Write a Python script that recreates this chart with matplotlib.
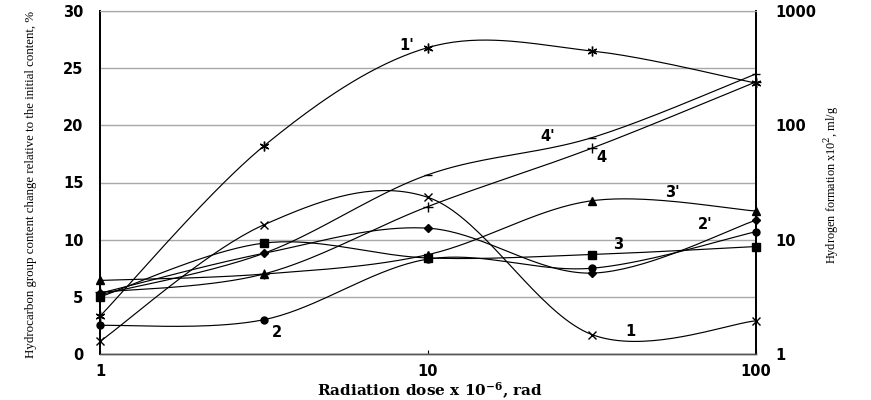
import matplotlib.pyplot as plt
import numpy as np
from matplotlib.ticker import FixedLocator, FixedFormatter, NullLocator

plt.rcParams["mathtext.fontset"] = "dejavuserif"

# radiation dose x 10^-6, rad
dose = [1, 3.16, 10, 31.6, 100]

# hydrocarbon group content change, % (left axis)
curve_1 = [1.1, 11.3, 13.7, 1.7, 2.9]
curve_2 = [2.5, 3.0, 8.3, 7.5, 10.7]
curve_3 = [5.0, 9.7, 8.4, 8.7, 9.4]
curve_4 = [5.4, 7.0, 12.9, 18.0, 23.8]

# hydrogen formation x10^2, ml/g (right axis, log)
curve_1p = [2.14, 66.0, 479.0, 447.0, 234.0]
curve_2p = [3.4, 7.6, 12.6, 5.1, 14.8]
curve_3p = [4.4, 5.0, 7.4, 21.9, 17.8]
curve_4p = [3.3, 7.6, 37.0, 78.0, 282.0]

labels = ["1", "2", "3", "4", "1'", "2'", "3'", "4'"]
label_x = [41.3, 3.46, 37.9, 33.9, 8.63, 69.9, 55.5, 23.1]
label_y = [2.0, 1.9, 9.6, 17.2, 27.0, 11.3, 14.1, 19.0]


def hermite_smooth(p, n=40):
    # Excel-style smoothing: Catmull-Rom tangents, endpoints duplicated
    p = np.asarray(p, dtype=float)
    ext = np.concatenate([[p[0]], p, [p[-1]]])
    m = (ext[2:] - ext[:-2]) / 2.0
    t = np.linspace(0, 1, n)
    h00 = 2 * t**3 - 3 * t**2 + 1
    h10 = t**3 - 2 * t**2 + t
    h01 = -2 * t**3 + 3 * t**2
    h11 = t**3 - t**2
    out = []
    for i in range(len(p) - 1):
        seg = h00 * p[i] + h10 * m[i] + h01 * p[i + 1] + h11 * m[i + 1]
        out.append(seg if i == 0 else seg[1:])
    return np.concatenate(out)


def draw_curve(ax, xs, ys, marker, ms, log_y=False):
    lx = hermite_smooth(np.log10(xs))
    if log_y:
        sy = 10 ** hermite_smooth(np.log10(ys))
    else:
        sy = hermite_smooth(ys)
    ax.plot(10**lx, sy, color="black", lw=0.85, clip_on=False, zorder=3)
    ax.plot(xs, ys, linestyle="none", marker=marker, ms=ms, color="black",
            mew=1.0, clip_on=False, zorder=4)


fig = plt.figure(figsize=(8.71, 4.0), dpi=100)
fig.patch.set_facecolor("white")
ax = fig.add_axes([100 / 871, 46 / 400, 656 / 871, 343 / 400])
ax2 = ax.twinx()

ax.set_xscale("log")
ax.set_xlim(1, 100)
ax.set_ylim(0, 30)
ax2.set_yscale("log")
ax2.set_ylim(1, 1000)

ax.xaxis.set_major_locator(FixedLocator([1, 10, 100]))
ax.xaxis.set_major_formatter(FixedFormatter(["1", "10", "100"]))
ax.xaxis.set_minor_locator(NullLocator())
ax.set_yticks([0, 5, 10, 15, 20, 25, 30])
ax2.yaxis.set_major_locator(FixedLocator([1, 10, 100, 1000]))
ax2.yaxis.set_major_formatter(FixedFormatter(["1", "10", "100", "1000"]))
ax2.yaxis.set_minor_locator(NullLocator())

ax.yaxis.grid(True, color="#a8a8a8", lw=1.0)
ax.set_axisbelow(True)

ax.tick_params(axis="x", direction="in", length=3, pad=7, width=0.8)
ax.tick_params(axis="y", length=0, pad=12)
ax2.tick_params(axis="y", length=0, pad=14)
for lab in ax.get_xticklabels() + ax.get_yticklabels() + ax2.get_yticklabels():
    lab.set_fontsize(10.5)
    lab.set_fontweight("bold")

for a in (ax, ax2):
    a.spines["top"].set_color("#a8a8a8")
    a.spines["left"].set_linewidth(1.3)
    a.spines["right"].set_linewidth(1.3)
    a.spines["bottom"].set_linewidth(1.0)
    a.spines["bottom"].set_color("#555555")

draw_curve(ax, dose, curve_1, "x", 6)
draw_curve(ax, dose, curve_2, "o", 5)
draw_curve(ax, dose, curve_3, "s", 5.5)
draw_curve(ax, dose, curve_4, "+", 7)
draw_curve(ax2, dose, curve_1p, (6, 2, 0), 7, log_y=True)
draw_curve(ax2, dose, curve_2p, "D", 4.5, log_y=True)
draw_curve(ax2, dose, curve_3p, "^", 6, log_y=True)
draw_curve(ax2, dose, curve_4p, "_", 6, log_y=True)

for text, lx, ly in zip(labels, label_x, label_y):
    ax.text(lx, ly, text, fontsize=10.5, fontweight="bold", ha="center",
            va="center", zorder=5)

fig.text(0.494, 0.022, r"Radiation dose x 10$^{\mathbf{-6}}$, rad",
         ha="center", va="center", fontsize=11, fontweight="bold",
         family="DejaVu Serif")
fig.text(0.036, 0.54,
         "Hydrocarbon group content change relative to the initial content, %",
         ha="center", va="center", rotation=90, fontsize=9.3,
         family="Liberation Serif")
fig.text(0.955, 0.5375, r"Hydrogen formation x10$^{2}$, ml/g",
         ha="center", va="center", rotation=90, fontsize=8.8,
         family="Liberation Serif")

fig.savefig("out.png", dpi=100)
